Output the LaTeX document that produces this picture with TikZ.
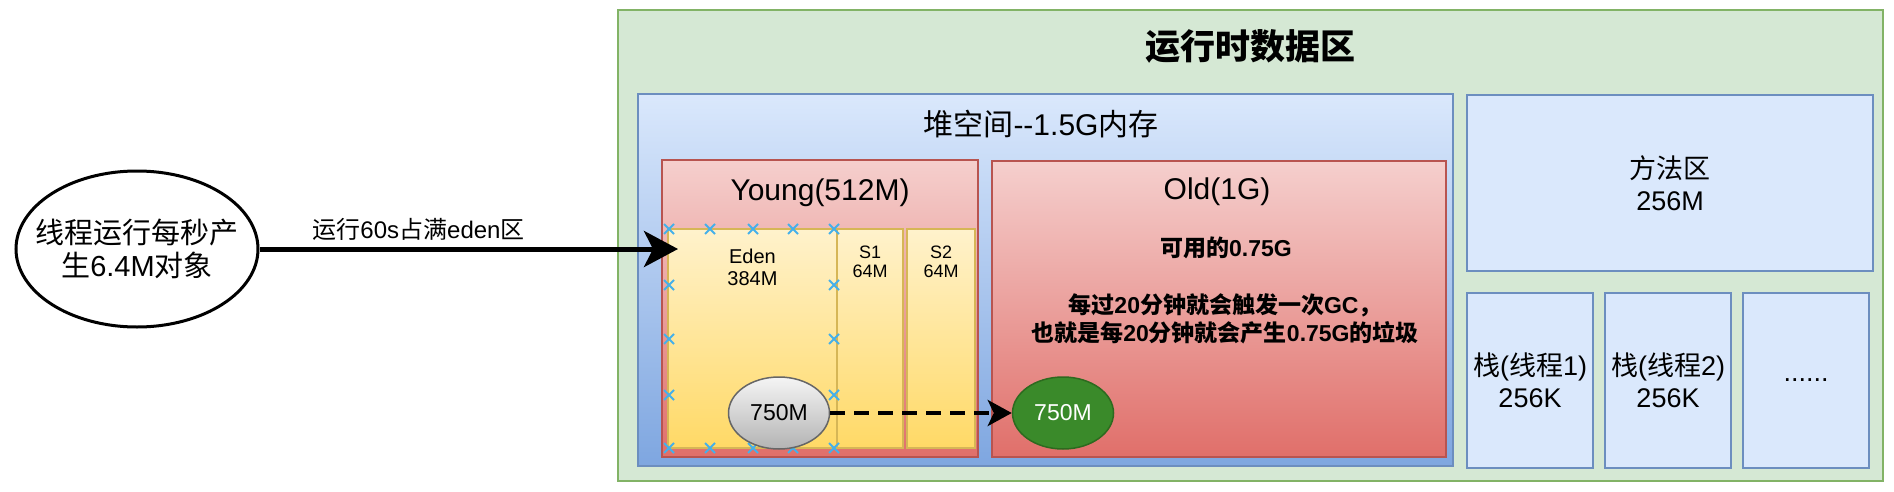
\documentclass[tikz,border=0pt]{standalone}
\usepackage{fontspec}
\setmainfont{Liberation Sans}
\newfontfamily\latinfont{Liberation Sans}
\newfontfamily\cjkfont{Noto Sans CJK SC}
\usetikzlibrary{arrows.meta,positioning,shapes.geometric}
% Chinese characters switch to the CJK font by themselves
\XeTeXinterchartokenstate=1
\newXeTeXintercharclass\hanclass
\newcount\hancode
\hancode="4E00
\loop
  \XeTeXcharclass\hancode=\hanclass
  \advance\hancode by 1
\ifnum\hancode<"A000 \repeat
\XeTeXcharclass"FF0C=\hanclass
\XeTeXcharclass`(=0
\XeTeXcharclass`)=0
\XeTeXinterchartoks 0 \hanclass={\cjkfont}
\XeTeXinterchartoks 4095 \hanclass={\cjkfont}
\XeTeXinterchartoks \hanclass 0={\latinfont}
\definecolor{runfill}{HTML}{D5E8D4}
\definecolor{runline}{HTML}{82B366}
\definecolor{bluetop}{HTML}{DAE8FC}
\definecolor{bluebot}{HTML}{7EA6E0}
\definecolor{blueline}{HTML}{6C8EBF}
\definecolor{redtop}{HTML}{F5CFCD}
\definecolor{redbot}{HTML}{E06F6A}
\definecolor{redline}{HTML}{B85450}
\definecolor{yeltop}{HTML}{FFF2CC}
\definecolor{yelbot}{HTML}{FFD966}
\definecolor{yelline}{HTML}{D6B656}
\definecolor{graytop}{HTML}{F5F5F5}
\definecolor{graybot}{HTML}{B3B3B3}
\definecolor{grayline}{HTML}{666666}
\definecolor{oldobj}{HTML}{3A8A2A}
\definecolor{oldobjline}{HTML}{2D6A1F}
\definecolor{handle}{HTML}{45B0EA}
\newcommand{\fsize}[2]{\fontsize{#1}{#2}\selectfont}
\tikzset{
    areabox/.style={rectangle,draw=runline,fill=runfill,line width=1.8pt,inner sep=0pt},
    heapbox/.style={rectangle,draw=blueline,top color=bluetop,bottom color=bluebot,line width=1.8pt,inner sep=0pt},
    genbox/.style={rectangle,draw=redline,top color=redtop,bottom color=redbot,line width=1.8pt,inner sep=0pt},
    spacebox/.style={rectangle,draw=yelline,top color=yeltop,bottom color=yelbot,line width=1.8pt,inner sep=0pt},
    plainbox/.style={rectangle,draw=blueline,fill=bluetop,line width=1.8pt,inner sep=0pt,align=center,font=\fsize{27}{32}},
    threadnode/.style={ellipse,draw,line width=3pt,inner xsep=-17pt,inner ysep=0pt,align=center,font=\fsize{29}{33}},
    objnode/.style={ellipse,inner sep=0pt,line width=1.5pt,minimum width=101pt,minimum height=72pt,font=\fsize{23}{26}},
    handlemark/.style={draw=handle,line width=2pt},
    bigline/.style={-{Stealth[length=34pt,width=36pt,inset=9pt]},line width=5pt},
    dashline/.style={-{Stealth[length=24pt,width=26pt,inset=6pt]},line width=3.6pt,dash pattern=on 15pt off 9pt}
}

\begin{document}
\begin{tikzpicture}[x=1pt,y=-1pt]
    \useasboundingbox (0,0) rectangle (1894,492);
    \node[areabox,minimum width=1265pt,minimum height=471pt] (runtime) at (1250.5,245.5) {};
    \node[font=\bfseries\fsize{35}{40}] (runtitle) at (1250,46) {运行时数据区};
    \node[heapbox,minimum width=815pt,minimum height=372pt] (heap) at (1045.5,280) {};
    \node[font=\fsize{30}{34}] (heaptitle) at (1041,124) {堆空间--1.5G内存};
    % young generation
    \node[genbox,minimum width=316pt,minimum height=297pt] (young) at (820,308.5) {};
    \node[font=\fsize{30}{34}] (youngtitle) at (820,193) {Young(512M)};
    \node[spacebox,minimum width=169pt,minimum height=219pt] (eden) at (752.5,338.5) {};
    \node[spacebox,minimum width=66pt,minimum height=219pt] (sone) at (870,338.5) {};
    \node[spacebox,minimum width=68pt,minimum height=219pt] (stwo) at (941,338.5) {};
    \node[align=center,font=\fsize{20}{22}] (edentext) at (752.5,267) {Eden\\384M};
    \node[align=center,font=\fsize{18}{19}] (sonetext) at (870,262) {S1\\64M};
    \node[align=center,font=\fsize{18}{19}] (stwotext) at (941,262) {S2\\64M};
    \foreach \hx in {669,710,753,793,834} {
        \draw[handlemark] (\hx,229) ++(-5,-5) -- ++(10,10) ++(-10,0) -- ++(10,-10);
        \draw[handlemark] (\hx,448) ++(-5,-5) -- ++(10,10) ++(-10,0) -- ++(10,-10);
    }
    \foreach \hy in {285,339,395} {
        \draw[handlemark] (669,\hy) ++(-5,-5) -- ++(10,10) ++(-10,0) -- ++(10,-10);
        \draw[handlemark] (834,\hy) ++(-5,-5) -- ++(10,10) ++(-10,0) -- ++(10,-10);
    }
    % old generation
    \node[genbox,minimum width=454pt,minimum height=296pt] (old) at (1219,309) {};
    \node[font=\fsize{30}{34}] (oldtitle) at (1217,192) {Old(1G)};
    \node[font=\bfseries\fsize{23}{28}] (oldfree) at (1226,248) {可用的0.75G};
    \node[align=center,font=\bfseries\fsize{23}{28}] (oldgc) at (1225,319) {每过20分钟就会触发一次GC，\\也就是每20分钟就会产生0.75G的垃圾};
    % method area and stacks
    \node[plainbox,minimum width=406pt,minimum height=176pt] (method) at (1670,183) {方法区\\256M};
    \node[plainbox,minimum width=126pt,minimum height=175pt] (stackone) at (1530,380.5) {栈(线程1)\\256K};
    \node[plainbox,minimum width=126pt,minimum height=175pt] (stacktwo) at (1668,380.5) {栈(线程2)\\256K};
    \node[plainbox,minimum width=126pt,minimum height=175pt] (stackmore) at (1806,380.5) {......};
    % objects
    \node[objnode,draw=grayline,top color=graytop,bottom color=graybot] (gray750) at (779,413) {750M};
    \node[objnode,draw=oldobjline,fill=oldobj,text=white] (green750) at (1063,413) {750M};
    \node[threadnode,minimum width=242pt,minimum height=156pt] (thread) at (137,249) {线程运行每秒产\\生6.4M对象};
    \coordinate (edenin) at (678,249);
    \draw[bigline] (thread) -- node[pos=0.38,above=3pt,font=\fsize{24}{28}] {运行60s占满eden区} (edenin);
    \draw[dashline] (gray750) -- (green750);
\end{tikzpicture}
\end{document}
